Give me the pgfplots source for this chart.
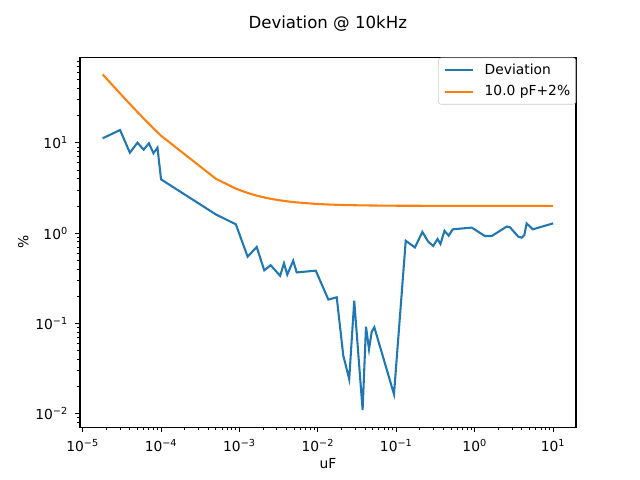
\documentclass[border=0pt]{standalone}
\usepackage{pgfplots}
\pgfplotsset{compat=1.18}
\usepackage{fontspec}
\setmainfont{DejaVu Sans}
\definecolor{tabblue}{HTML}{1F77B4}
\definecolor{taborange}{HTML}{FF7F0E}
\begin{document}
\begin{tikzpicture}
\path[use as bounding box] (0,0) rectangle (6.4in,4.8in);
\begin{axis}[
  at={(0.8in,0.528in)}, anchor=south west,
  scale only axis, width=4.96in, height=3.696in,
  xmode=log, ymode=log,
  xmin=9.25e-6, xmax=19.6,
  ymin=7.03e-3, ymax=88.3,
  axis line style={line width=0.8pt},
  tick align=outside,
  xtick pos=bottom, ytick pos=left,
  major tick length=3.5pt, minor tick length=2pt,
  every major tick/.style={black, line width=0.8pt},
  every minor tick/.style={black, line width=0.6pt},
  xtick={1e-5,1e-4,1e-3,1e-2,1e-1,1,10},
  xticklabels={10\textsuperscript{−5},10\textsuperscript{−4},10\textsuperscript{−3},10\textsuperscript{−2},10\textsuperscript{−1},10\textsuperscript{0},10\textsuperscript{1}},
  minor xtick={2e-5,3e-5,4e-5,5e-5,6e-5,7e-5,8e-5,9e-5,
    2e-4,3e-4,4e-4,5e-4,6e-4,7e-4,8e-4,9e-4,
    2e-3,3e-3,4e-3,5e-3,6e-3,7e-3,8e-3,9e-3,
    2e-2,3e-2,4e-2,5e-2,6e-2,7e-2,8e-2,9e-2,
    0.2,0.3,0.4,0.5,0.6,0.7,0.8,0.9,
    2,3,4,5,6,7,8,9},
  ytick={1e-2,1e-1,1,10},
  yticklabels={10\textsuperscript{−2},10\textsuperscript{−1},10\textsuperscript{0},10\textsuperscript{1}},
  minor ytick={8e-3,9e-3,
    2e-2,3e-2,4e-2,5e-2,6e-2,7e-2,8e-2,9e-2,
    0.2,0.3,0.4,0.5,0.6,0.7,0.8,0.9,
    2,3,4,5,6,7,8,9,
    20,30,40,50,60,70,80},
  ticklabel style={font=\fontsize{10}{12}\selectfont},
  xticklabel style={inner sep=0pt, yshift=-5pt},
  yticklabel style={inner sep=0pt, xshift=-5pt},
  xlabel={uF}, ylabel={\%},
  every axis x label/.style={at={([yshift=-29.5pt]axis description cs:0.5,0)}, anchor=base, font=\fontsize{10}{12}\selectfont},
  every axis y label/.style={at={([xshift=-41pt]axis description cs:0,0.5)}, anchor=center, rotate=90, font=\fontsize{10}{12}\selectfont},
  legend cell align=left,
  legend style={at={(1,1)}, anchor=north east, draw=black!20, rounded corners=2pt,
    fill=white, fill opacity=0.8, text opacity=1, inner xsep=4pt, inner ysep=3pt,
    font=\fontsize{10}{12}\selectfont, row sep=3.5pt,
    nodes={inner xsep=0pt, inner ysep=1.5pt},
    /tikz/every odd column/.append style={column sep=8pt}},
  legend image code/.code={\draw[#1] (0pt,0pt) -- (20pt,0pt);},
]
\addplot[tabblue, line width=1.5pt, mark=none] coordinates {
(1.8e-5,11.25) (3e-5,13.9) (4e-5,7.79) (5e-5,10.05) (6e-5,8.41) (7e-5,9.9) (8e-5,7.67) (9e-5,8.85)
(1e-4,3.94) (5e-4,1.61) (9e-4,1.25) (1.27e-3,0.547) (1.66e-3,0.701) (2.07e-3,0.386) (2.5e-3,0.44)
(3.3e-3,0.336) (3.7e-3,0.462) (4.07e-3,0.345) (4.85e-3,0.493) (5.37e-3,0.366) (9.4e-3,0.383)
(0.0136,0.183) (0.0174,0.194) (0.0211,0.0437) (0.0251,0.0239) (0.0291,0.178) (0.0372,0.0109)
(0.0411,0.0916) (0.0449,0.0514) (0.0486,0.0806) (0.0525,0.0902) (0.0935,0.0163) (0.132,0.822)
(0.173,0.692) (0.215,1.03) (0.256,0.80) (0.296,0.719) (0.336,0.859) (0.366,0.757) (0.412,1.06)
(0.466,0.935) (0.524,1.10) (0.916,1.15) (1.11,1.035) (1.35,0.927) (1.65,0.927) (2.56,1.18)
(2.82,1.16) (3.6,0.912) (3.98,0.889) (4.3,0.953) (4.6,1.28) (5.5,1.10) (10,1.28)
};
\addlegendentry{Deviation}
\addplot[taborange, line width=1.5pt, mark=none] coordinates {
(1.8e-5,57.56) (3e-5,35.33) (4e-5,27.0) (5e-5,22.0) (6e-5,18.67) (7e-5,16.29) (8e-5,14.5) (9e-5,13.11)
(1e-4,12.0) (5e-4,4.0) (9e-4,3.11) (1.27e-3,2.787) (1.66e-3,2.602) (2.07e-3,2.483) (2.5e-3,2.4)
(3.3e-3,2.303) (4.85e-3,2.206) (9.4e-3,2.106) (0.0136,2.074) (0.0211,2.047) (0.0372,2.027)
(0.0935,2.011) (0.524,2.002) (1.35,2.001) (10,2.0001)
};
\addlegendentry{10.0 pF+2\%}
\end{axis}
\node[anchor=base, font=\fontsize{12}{14}\selectfont] at (3.278in,4.51in) {Deviation @ 10kHz};
\end{tikzpicture}
\end{document}
